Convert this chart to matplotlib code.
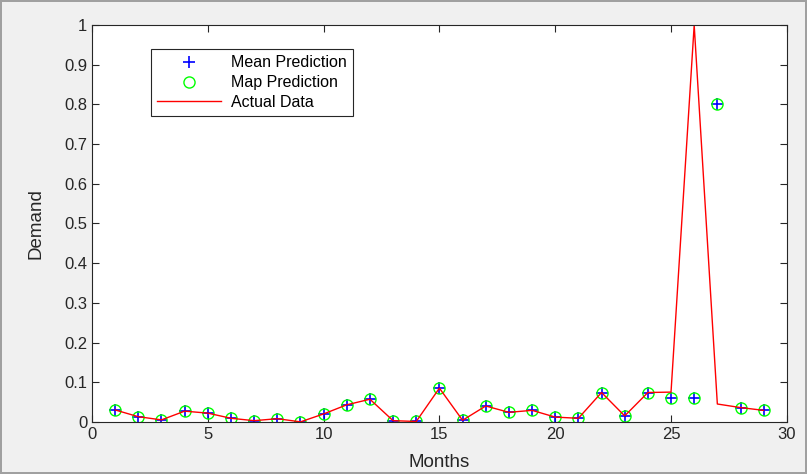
import numpy as np
import matplotlib
matplotlib.use("Agg")
import matplotlib.pyplot as plt

plt.rcParams['font.family'] = ['Liberation Sans', 'DejaVu Sans']

# data
months = np.arange(1, 30)
actual = [0.030, 0.013, 0.005, 0.027, 0.022, 0.009, 0.003, 0.008, 0.000, 0.020,
          0.043, 0.057, 0.003, 0.001, 0.085, 0.004, 0.040, 0.024, 0.029, 0.012,
          0.009, 0.074, 0.015, 0.074, 0.075, 1.000, 0.045, 0.036, 0.029]
mean_pred = [0.030, 0.013, 0.005, 0.027, 0.022, 0.009, 0.003, 0.008, 0.000, 0.020,
             0.043, 0.057, 0.003, 0.001, 0.085, 0.004, 0.040, 0.024, 0.029, 0.012,
             0.009, 0.074, 0.015, 0.074, 0.059, 0.059, 0.800, 0.036, 0.029]
map_pred = list(mean_pred)

fig = plt.figure(figsize=(8.07, 4.74), dpi=100, facecolor='#f0f0f0',
                 edgecolor='#a0a0a0', linewidth=1.5)
ax = fig.add_axes([0.114, 0.110, 0.861, 0.837])
ax.set_facecolor('white')

ax.plot(months, mean_pred, '+', color='blue', markersize=9, markeredgewidth=1.2,
        label='Mean Prediction')
ax.plot(months, map_pred, 'o', color='#00ff00', markerfacecolor='none', markersize=8,
        markeredgewidth=1.0, label='Map Prediction')
ax.plot(months, actual, '-', color='red', linewidth=1.0, label='Actual Data')

ax.set_xlim(0, 30)
ax.set_ylim(0, 1)
ax.set_xticks(np.arange(0, 31, 5))
ax.set_yticks(np.arange(0, 1.01, 0.1))
ax.set_yticklabels(['0', '0.1', '0.2', '0.3', '0.4', '0.5', '0.6', '0.7', '0.8', '0.9', '1'])
ax.tick_params(direction='in', top=True, right=True, labelsize=12, colors='#262626',
               length=5, width=0.8)
for s in ax.spines.values():
    s.set_color('#262626')
    s.set_linewidth(0.8)

ax.set_xlabel('Months', fontsize=13.5, color='#262626', labelpad=9)
ax.set_ylabel('Demand', fontsize=13.5, color='#262626', labelpad=14)

leg = ax.legend(loc='upper left', bbox_to_anchor=(0.073, 0.96), fontsize=11.5,
                fancybox=False, edgecolor='#262626', framealpha=1,
                handlelength=4.0, borderpad=0.4, labelspacing=0.3, handletextpad=0.6)
leg.get_frame().set_linewidth(0.8)

fig.savefig('out.png', dpi=100, facecolor=fig.get_facecolor(), edgecolor=fig.get_edgecolor())
